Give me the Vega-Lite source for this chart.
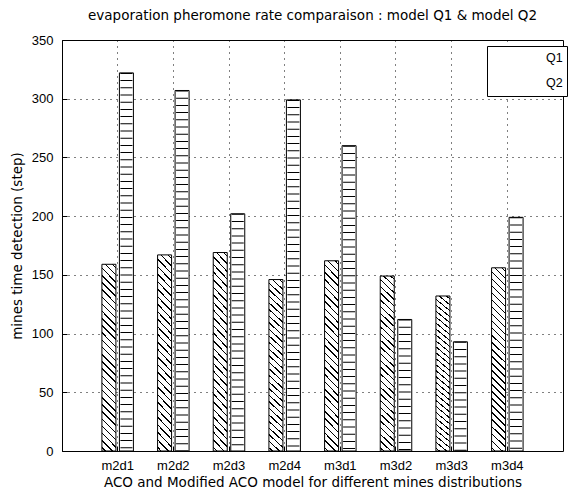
{
  "$schema": "https://vega.github.io/schema/vega-lite/v6.json",
  "width": 501,
  "height": 411,
  "autosize": {"type": "none"},
  "padding": {"left": 62, "top": 40, "right": 15, "bottom": 42},
  "title": {
    "text": "evaporation pheromone rate comparaison : model Q1 & model Q2",
    "font": "DejaVu Sans",
    "fontSize": 13.5,
    "fontWeight": "normal",
    "color": "#000",
    "baseline": "alphabetic",
    "frame": "group",
    "offset": 19,
    "dy": 18
  },
  "data": {
    "values": [
      {"dist": "m2d1", "model": "Q1", "steps": 159},
      {"dist": "m2d2", "model": "Q1", "steps": 167},
      {"dist": "m2d3", "model": "Q1", "steps": 169},
      {"dist": "m2d4", "model": "Q1", "steps": 146},
      {"dist": "m3d1", "model": "Q1", "steps": 162},
      {"dist": "m3d2", "model": "Q1", "steps": 149},
      {"dist": "m3d3", "model": "Q1", "steps": 132},
      {"dist": "m3d4", "model": "Q1", "steps": 156},
      {"dist": "m2d1", "model": "Q2", "steps": 322},
      {"dist": "m2d2", "model": "Q2", "steps": 307},
      {"dist": "m2d3", "model": "Q2", "steps": 202},
      {"dist": "m2d4", "model": "Q2", "steps": 299},
      {"dist": "m3d1", "model": "Q2", "steps": 260},
      {"dist": "m3d2", "model": "Q2", "steps": 112},
      {"dist": "m3d3", "model": "Q2", "steps": 93},
      {"dist": "m3d4", "model": "Q2", "steps": 199}
    ]
  },
  "encoding": {
    "x": {
      "field": "dist",
      "type": "nominal",
      "sort": ["m2d1", "m2d2", "m2d3", "m2d4", "m3d1", "m3d2", "m3d3", "m3d4"],
      "scale": {"paddingInner": 0, "paddingOuter": 0.5},
      "axis": {
        "title": "ACO and Modified ACO model for different mines distributions",
        "labelAngle": 0,
        "grid": true,
        "bandPosition": 0.5
      }
    },
    "xOffset": {
      "field": "model",
      "type": "nominal",
      "scale": {"domain": ["Q1", "Q2"], "paddingInner": 0.2, "paddingOuter": 0.69}
    },
    "y": {
      "field": "steps",
      "type": "quantitative",
      "scale": {"domain": [0, 350], "nice": false},
      "axis": {
        "title": "mines time detection (step)",
        "values": [0, 50, 100, 150, 200, 250, 300, 350],
        "grid": true
      }
    }
  },
  "layer": [
    {
      "transform": [{"filter": "false"}],
      "mark": {"type": "point", "filled": true, "fill": "white", "stroke": "black", "strokeWidth": 1, "opacity": 1},
      "encoding": {
        "shape": {
          "field": "model",
          "type": "nominal",
          "scale": {
            "domain": ["Q1", "Q2"],
            "range": [
              "M-3.43,-1H3.43V1H-3.43Z M-3.43,0.57L-3,1 M-3.43,-0.43L-2,1 M-3,-1L-1,1 M-2,-1L0,1 M-1,-1L1,1 M0,-1L2,1 M1,-1L3,1 M2,-1L3.43,0.43 M3,-1L3.43,-0.57",
              "M-3.43,-1H3.43V1H-3.43Z M-3.43,-0.333H3.43 M-3.43,0.333H3.43"
            ]
          },
          "legend": {
            "title": null,
            "orient": "none",
            "legendX": 425,
            "legendY": 6,
            "symbolSize": 196,
            "symbolFillColor": "white",
            "symbolStrokeColor": "black",
            "symbolStrokeWidth": 1,
            "symbolOpacity": 1,
            "symbolOffset": 19,
            "labelOffset": 21,
            "labelFont": "Liberation Sans",
            "labelFontSize": 12.5,
            "labelColor": "black",
            "strokeColor": "black",
            "fillColor": "white",
            "padding": 4,
            "rowPadding": 6,
            "cornerRadius": 0,
            "encode": {
              "symbols": {
                "update": {
                  "stroke": {"value": "black"},
                  "strokeWidth": {"value": 1},
                  "opacity": {"value": 1},
                  "fillOpacity": {"value": 1},
                  "strokeOpacity": {"value": 1},
                  "fill": {"value": "white"}
                }
              }
            }
          }
        }
      }
    },
    {
      "transform": [{"filter": "datum.model === 'Q1'"}],
      "mark": {
        "type": "bar",
        "stroke": "black",
        "strokeWidth": 1,
        "fill": {
          "gradient": "linear",
          "x1": 0, "y1": 1, "x2": 0.0809, "y2": -0.0696,
          "stops": [
            {"offset": 0, "color": "white"},
            {"offset": 0.0141, "color": "white"}, {"offset": 0.0141, "color": "black"}, {"offset": 0.0217, "color": "black"}, {"offset": 0.0217, "color": "white"},
            {"offset": 0.0498, "color": "white"}, {"offset": 0.0498, "color": "black"}, {"offset": 0.0574, "color": "black"}, {"offset": 0.0574, "color": "white"},
            {"offset": 0.0855, "color": "white"}, {"offset": 0.0855, "color": "black"}, {"offset": 0.0931, "color": "black"}, {"offset": 0.0931, "color": "white"},
            {"offset": 0.1212, "color": "white"}, {"offset": 0.1212, "color": "black"}, {"offset": 0.1288, "color": "black"}, {"offset": 0.1288, "color": "white"},
            {"offset": 0.1569, "color": "white"}, {"offset": 0.1569, "color": "black"}, {"offset": 0.1645, "color": "black"}, {"offset": 0.1645, "color": "white"},
            {"offset": 0.1926, "color": "white"}, {"offset": 0.1926, "color": "black"}, {"offset": 0.2002, "color": "black"}, {"offset": 0.2002, "color": "white"},
            {"offset": 0.2283, "color": "white"}, {"offset": 0.2283, "color": "black"}, {"offset": 0.2359, "color": "black"}, {"offset": 0.2359, "color": "white"},
            {"offset": 0.2641, "color": "white"}, {"offset": 0.2641, "color": "black"}, {"offset": 0.2717, "color": "black"}, {"offset": 0.2717, "color": "white"},
            {"offset": 0.2998, "color": "white"}, {"offset": 0.2998, "color": "black"}, {"offset": 0.3074, "color": "black"}, {"offset": 0.3074, "color": "white"},
            {"offset": 0.3355, "color": "white"}, {"offset": 0.3355, "color": "black"}, {"offset": 0.3431, "color": "black"}, {"offset": 0.3431, "color": "white"},
            {"offset": 0.3712, "color": "white"}, {"offset": 0.3712, "color": "black"}, {"offset": 0.3788, "color": "black"}, {"offset": 0.3788, "color": "white"},
            {"offset": 0.4069, "color": "white"}, {"offset": 0.4069, "color": "black"}, {"offset": 0.4145, "color": "black"}, {"offset": 0.4145, "color": "white"},
            {"offset": 0.4426, "color": "white"}, {"offset": 0.4426, "color": "black"}, {"offset": 0.4502, "color": "black"}, {"offset": 0.4502, "color": "white"},
            {"offset": 0.4783, "color": "white"}, {"offset": 0.4783, "color": "black"}, {"offset": 0.4859, "color": "black"}, {"offset": 0.4859, "color": "white"},
            {"offset": 0.5141, "color": "white"}, {"offset": 0.5141, "color": "black"}, {"offset": 0.5217, "color": "black"}, {"offset": 0.5217, "color": "white"},
            {"offset": 0.5498, "color": "white"}, {"offset": 0.5498, "color": "black"}, {"offset": 0.5574, "color": "black"}, {"offset": 0.5574, "color": "white"},
            {"offset": 0.5855, "color": "white"}, {"offset": 0.5855, "color": "black"}, {"offset": 0.5931, "color": "black"}, {"offset": 0.5931, "color": "white"},
            {"offset": 0.6212, "color": "white"}, {"offset": 0.6212, "color": "black"}, {"offset": 0.6288, "color": "black"}, {"offset": 0.6288, "color": "white"},
            {"offset": 0.6569, "color": "white"}, {"offset": 0.6569, "color": "black"}, {"offset": 0.6645, "color": "black"}, {"offset": 0.6645, "color": "white"},
            {"offset": 0.6926, "color": "white"}, {"offset": 0.6926, "color": "black"}, {"offset": 0.7002, "color": "black"}, {"offset": 0.7002, "color": "white"},
            {"offset": 0.7283, "color": "white"}, {"offset": 0.7283, "color": "black"}, {"offset": 0.7359, "color": "black"}, {"offset": 0.7359, "color": "white"},
            {"offset": 0.7641, "color": "white"}, {"offset": 0.7641, "color": "black"}, {"offset": 0.7717, "color": "black"}, {"offset": 0.7717, "color": "white"},
            {"offset": 0.7998, "color": "white"}, {"offset": 0.7998, "color": "black"}, {"offset": 0.8074, "color": "black"}, {"offset": 0.8074, "color": "white"},
            {"offset": 0.8355, "color": "white"}, {"offset": 0.8355, "color": "black"}, {"offset": 0.8431, "color": "black"}, {"offset": 0.8431, "color": "white"},
            {"offset": 0.8712, "color": "white"}, {"offset": 0.8712, "color": "black"}, {"offset": 0.8788, "color": "black"}, {"offset": 0.8788, "color": "white"},
            {"offset": 0.9069, "color": "white"}, {"offset": 0.9069, "color": "black"}, {"offset": 0.9145, "color": "black"}, {"offset": 0.9145, "color": "white"},
            {"offset": 0.9426, "color": "white"}, {"offset": 0.9426, "color": "black"}, {"offset": 0.9502, "color": "black"}, {"offset": 0.9502, "color": "white"},
            {"offset": 0.9783, "color": "white"}, {"offset": 0.9783, "color": "black"}, {"offset": 0.9859, "color": "black"}, {"offset": 0.9859, "color": "white"},
            {"offset": 1, "color": "white"}
          ]
        }
      }
    },
    {
      "transform": [{"filter": "datum.model === 'Q2'"}],
      "mark": {"type": "bar", "fill": "white", "stroke": "black", "strokeWidth": 1}
    },
    {
      "transform": [{"filter": "datum.model === 'Q2'"}],
      "mark": {
        "type": "rule",
        "color": "black",
        "strokeWidth": 12,
        "strokeDash": [1, 6.2],
        "strokeCap": "butt"
      },
      "encoding": {
        "y2": {"datum": 0}
      }
    }
  ],
  "config": {
    "font": "Liberation Sans",
    "view": {"stroke": "black", "strokeWidth": 1},
    "axis": {
      "domain": false,
      "labelFont": "Liberation Sans",
      "labelFontSize": 13,
      "labelColor": "#000",
      "titleFont": "DejaVu Sans",
      "titleFontSize": 13.5,
      "titleFontWeight": "normal",
      "titleColor": "#000",
      "tickColor": "#000",
      "tickSize": -5,
      "gridColor": "#000",
      "gridDash": [1, 5],
      "gridOpacity": 1,
      "gridWidth": 1
    },
    "axisX": {"labelPadding": 13, "titlePadding": 3},
    "axisY": {"labelPadding": 14, "titlePadding": 7}
  }
}
